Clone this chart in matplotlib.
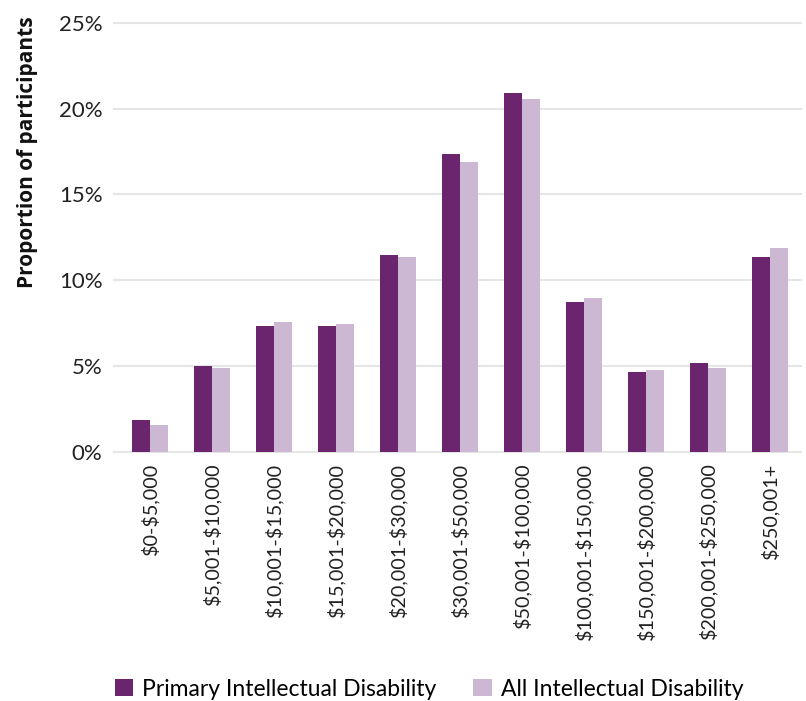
import matplotlib
matplotlib.use("Agg")
import matplotlib.pyplot as plt
import numpy as np

categories = ["\\$0-\\$5,000", "\\$5,001-\\$10,000", "\\$10,001-\\$15,000", "\\$15,001-\\$20,000",
              "\\$20,001-\\$30,000", "\\$30,001-\\$50,000", "\\$50,001-\\$100,000",
              "\\$100,001-\\$150,000", "\\$150,001-\\$200,000", "\\$200,001-\\$250,000", "\\$250,001+"]
primary = [1.86, 4.99, 7.35, 7.35, 11.47, 17.37, 20.91, 8.70, 4.63, 5.16, 11.36]
all_id = [1.56, 4.87, 7.58, 7.46, 11.36, 16.90, 20.56, 8.94, 4.75, 4.87, 11.89]
yticks = [0, 5, 10, 15, 20, 25]
ytick_labels = ["0%", "5%", "10%", "15%", "20%", "25%"]

plt.rcParams['font.family'] = ['Lato', 'DejaVu Sans']
fig = plt.figure(figsize=(8.06, 7.01), dpi=100)
ax = fig.add_axes([119/806, 1 - 451.5/701, 682/806, (451.5 - 23)/701])

x = np.arange(len(categories))
w = 0.29
ax.bar(x - w/2, primary, w, color="#6B246E", label="Primary Intellectual Disability", zorder=3)
ax.bar(x + w/2, all_id, w, color="#CDB8D3", label="All Intellectual Disability", zorder=3)

ax.set_xlim(-0.5, len(categories) - 0.5)
ax.set_ylim(0, 25)
ax.set_yticks(yticks)
ax.set_yticklabels(ytick_labels, fontsize=16, color="#222222")
ax.set_xticks(x)
ax.set_xticklabels(categories, rotation=90, fontsize=14.2, color="#222222")
ax.tick_params(axis='both', length=0)
ax.tick_params(axis='y', pad=12)
ax.tick_params(axis='x', pad=8)
for yv in yticks:
    ax.axhline(yv, color="#e6e6e6", lw=1.5, zorder=1, xmin=-0.007, clip_on=False)
for s in ax.spines.values():
    s.set_visible(False)
fig.text(28/806, 1 - 152/701, "Proportion of participants", rotation=90,
         fontsize=15, fontweight="bold", family=['Open Sans', 'DejaVu Sans'],
         ha="center", va="center", color="#111111")

fig.legend(loc="center", bbox_to_anchor=(429/806, 1 - 689/701), ncol=2, frameon=False,
           fontsize=16.5, handlelength=0.8, handleheight=0.8, handletextpad=0.4,
           columnspacing=1.6)

fig.savefig("out.png", dpi=100)
